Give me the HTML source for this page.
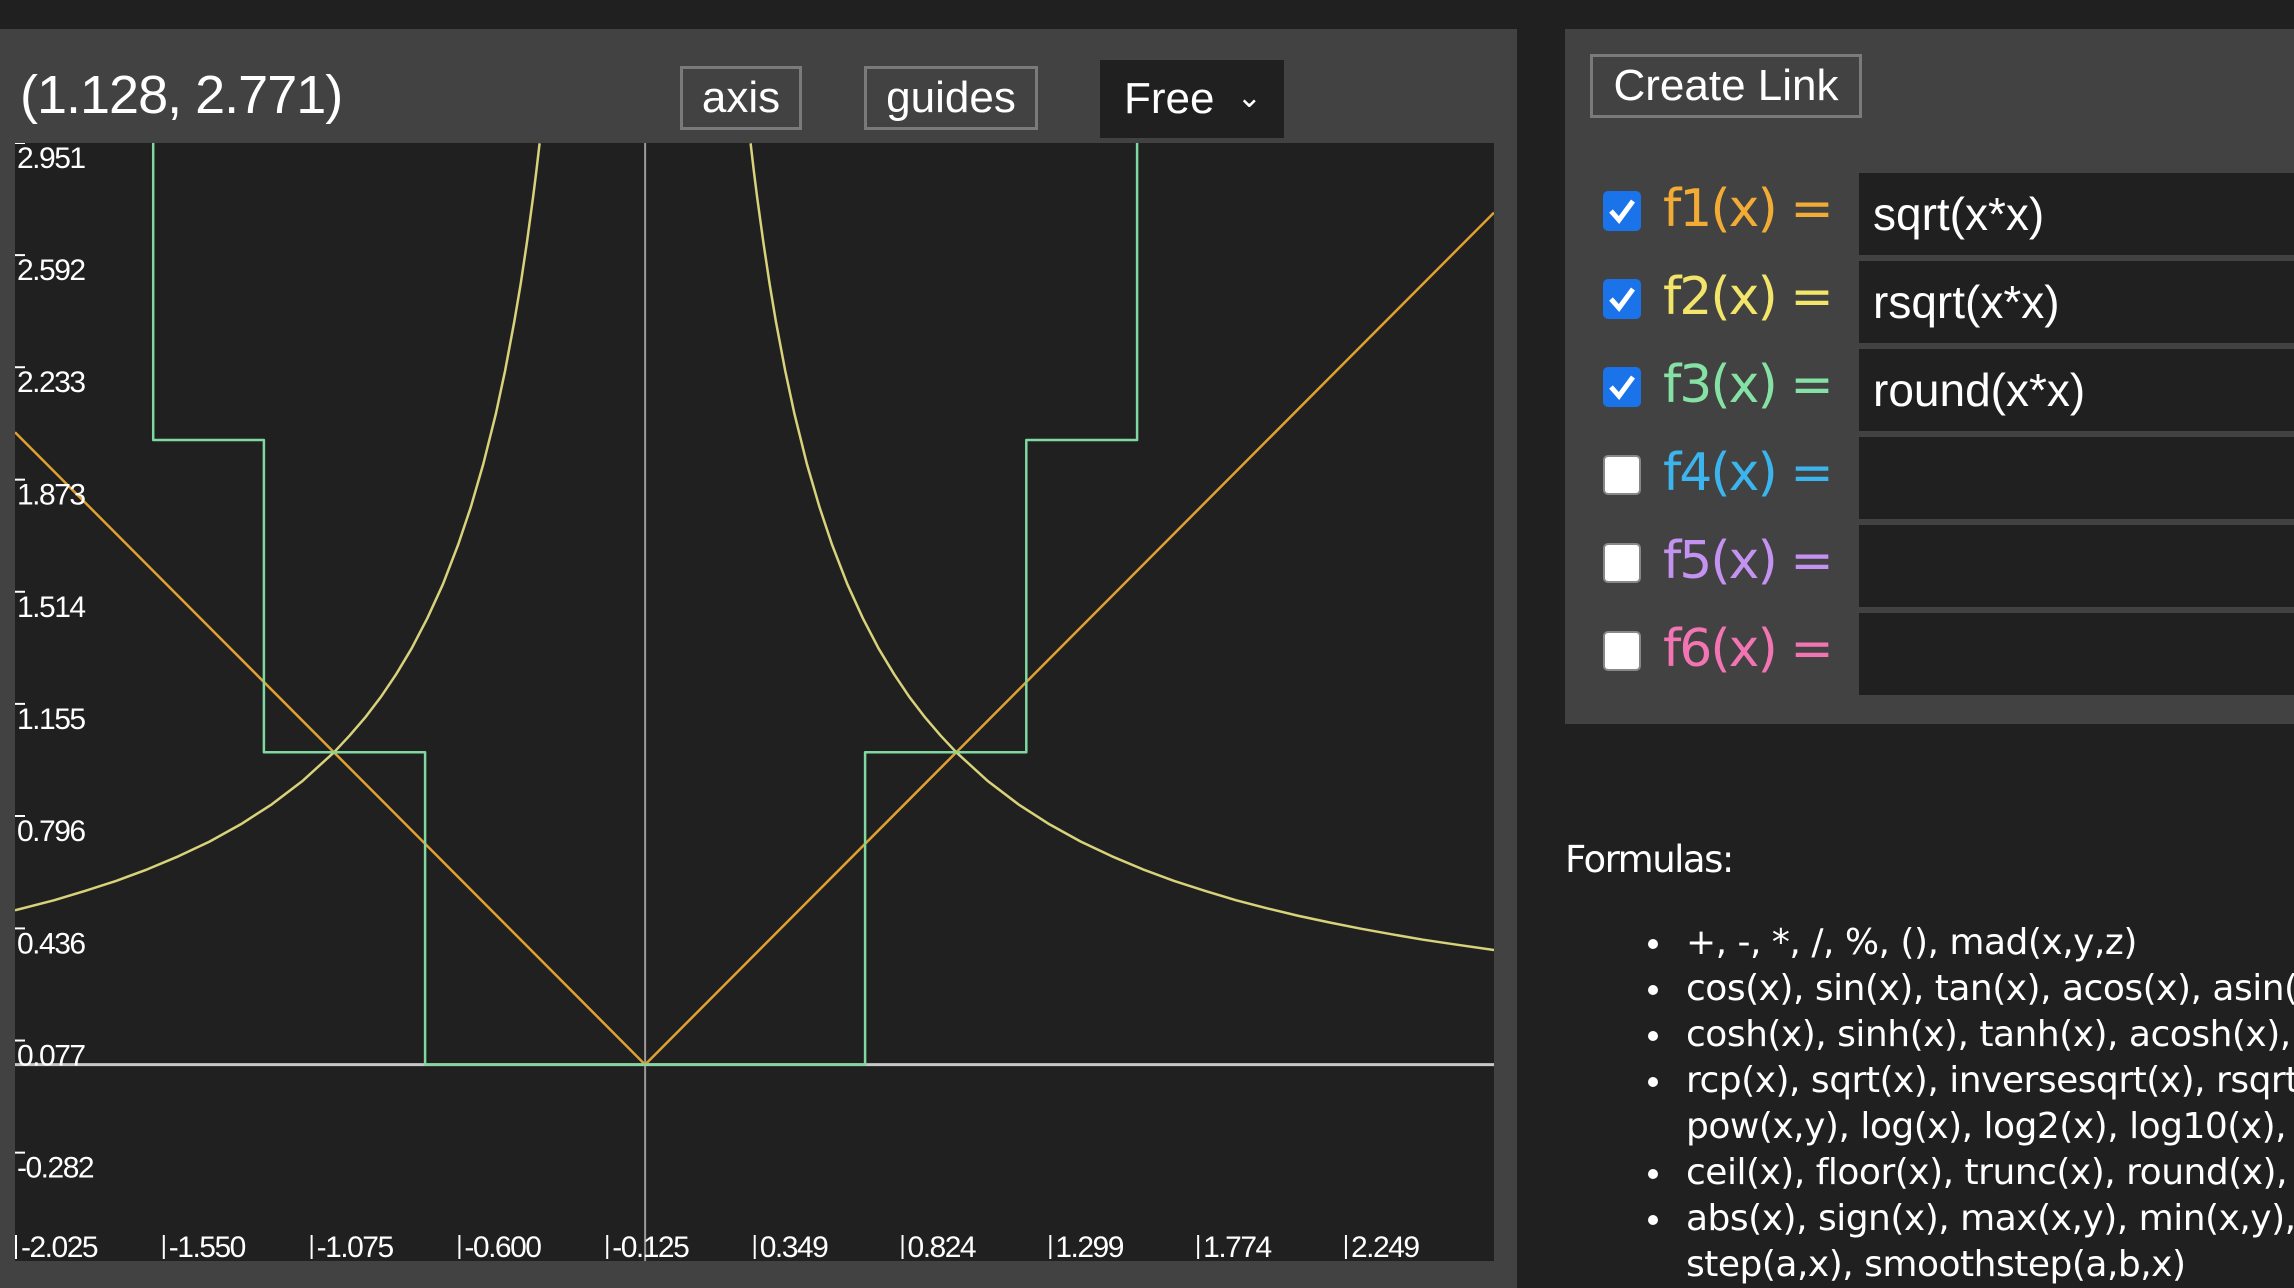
<!DOCTYPE html>
<html><head><meta charset="utf-8">
<style>
html,body{margin:0;padding:0;width:2294px;height:1288px;overflow:hidden;background:#202020;font-family:"Liberation Sans",sans-serif;color:#fff}
#left{position:absolute;left:0;top:29px;width:1517px;height:1259px;background:#424242}
#coord{position:absolute;left:20px;top:64px;font-size:54px;white-space:nowrap;letter-spacing:-1px}
.btn{position:absolute;box-sizing:border-box;border:3px solid #7a7a7a;background:#424242;color:#fff;font-size:44px;text-align:center;line-height:58px}
#sel{position:absolute;left:1100px;top:60px;width:184px;height:78px;background:#202020;font-size:44px;line-height:78px;padding-left:24px;box-sizing:border-box}
#right{position:absolute;left:1565px;top:29px;width:729px;height:695px;background:#424242;overflow:hidden}
.row{position:absolute;left:0;height:82px;width:729px}
.cb{position:absolute;left:38px;top:18px;width:38px;height:40px;border-radius:5px;box-sizing:border-box}
.cb.on{background:#1a73e8}
.cb.off{background:#fff;border:2px solid #888}
.lab{position:absolute;left:98px;top:6px;font-size:52px;font-family:"DejaVu Sans",sans-serif;white-space:nowrap;letter-spacing:-2px}
.inp{position:absolute;left:294px;top:0;width:435px;height:82px;background:#202020;font-size:46px;line-height:82px;padding-left:14px;box-sizing:border-box;white-space:nowrap}
#formulas{position:absolute;left:1565px;top:838px;font-family:"DejaVu Sans",sans-serif;font-size:37px;white-space:nowrap;letter-spacing:-1.5px}
#list{position:absolute;left:1648px;top:920px;width:646px;overflow:hidden;font-family:"DejaVu Sans",sans-serif;font-size:36px;line-height:46px;white-space:nowrap;letter-spacing:-0.5px}
#list div{position:relative;padding-left:38px}
#list .b:before{content:"";position:absolute;left:0;top:19px;width:10px;height:10px;border-radius:50%;background:#fff}
</style></head><body>
<div id="left"></div>
<div id="coord">(1.128, 2.771)</div>
<div class="btn" style="left:680px;top:66px;width:122px;height:64px">axis</div>
<div class="btn" style="left:864px;top:66px;width:174px;height:64px">guides</div>
<div id="sel">Free <span style="font-size:30px;position:relative;top:-6px;left:10px">&#8964;</span></div>

<svg id="chart" style="position:absolute;left:15px;top:143px" width="1479" height="1118">
<rect width="1479" height="1118" fill="#202020"/>
<g id="axes"></g><g id="series"></g><g id="ticks"></g>
</svg>

<div id="right">
 <div class="btn" style="left:25px;top:25px;width:272px;height:64px;font-size:44px">Create Link</div>
 <div class="row" style="top:144px"><div class="cb on"><svg width="38" height="40"><path d="M8 20 L16 29 L30 10" stroke="#fff" stroke-width="5" fill="none"/></svg></div><div class="lab" style="color:#f2ac35">f1(x) =</div><div class="inp">sqrt(x*x)</div></div>
 <div class="row" style="top:232px"><div class="cb on"><svg width="38" height="40"><path d="M8 20 L16 29 L30 10" stroke="#fff" stroke-width="5" fill="none"/></svg></div><div class="lab" style="color:#f3e46a">f2(x) =</div><div class="inp">rsqrt(x*x)</div></div>
 <div class="row" style="top:320px"><div class="cb on"><svg width="38" height="40"><path d="M8 20 L16 29 L30 10" stroke="#fff" stroke-width="5" fill="none"/></svg></div><div class="lab" style="color:#86e2a4">f3(x) =</div><div class="inp">round(x*x)</div></div>
 <div class="row" style="top:408px"><div class="cb off"></div><div class="lab" style="color:#3cb4ee">f4(x) =</div><div class="inp"></div></div>
 <div class="row" style="top:496px"><div class="cb off"></div><div class="lab" style="color:#c492f0">f5(x) =</div><div class="inp"></div></div>
 <div class="row" style="top:584px"><div class="cb off"></div><div class="lab" style="color:#f274b2">f6(x) =</div><div class="inp"></div></div>
</div>

<div id="formulas">Formulas:</div>
<div id="list">
<div class="b">+, -, *, /, %, (), mad(x,y,z)</div>
<div class="b">cos(x), sin(x), tan(x), acos(x), asin(x), atan(x)</div>
<div class="b">cosh(x), sinh(x), tanh(x), acosh(x), asinh(x)</div>
<div class="b">rcp(x), sqrt(x), inversesqrt(x), rsqrt(x),</div>
<div>pow(x,y), log(x), log2(x), log10(x), exp(x)</div>
<div class="b">ceil(x), floor(x), trunc(x), round(x), frac(x)</div>
<div class="b">abs(x), sign(x), max(x,y), min(x,y),</div>
<div>step(a,x), smoothstep(a,b,x)</div>
</div>

<script>
const xMin=-2.025, xMax=2.728, yMax=2.951, yMin=-0.629;
const xTicks=[-2.025,-1.550,-1.075,-0.600,-0.125,0.349,0.824,1.299,1.774,2.249];
const xTickLabels=["-2.025","-1.550","-1.075","-0.600","-0.125","0.349","0.824","1.299","1.774","2.249"];
const yTicks=[2.951,2.592,2.233,1.873,1.514,1.155,0.796,0.436,0.077,-0.282];
const yTickLabels=["2.951","2.592","2.233","1.873","1.514","1.155","0.796","0.436","0.077","-0.282"];
// f1 = sqrt(x*x)
const f1X=[-2.025,0,2.728];
const f1Y=[2.025,0,2.728];
// f2 = rsqrt(x*x) sampled (left branch)
const f2X=[-2.025,-1.9,-1.8,-1.7,-1.6,-1.5,-1.4,-1.3,-1.2,-1.1,-1.0,-0.95,-0.9,-0.85,-0.8,-0.75,-0.7,-0.65,-0.6,-0.56,-0.52,-0.48,-0.45,-0.42,-0.4,-0.38,-0.36,-0.35,-0.339];
const f2Y=[0.494,0.526,0.556,0.588,0.625,0.667,0.714,0.769,0.833,0.909,1.0,1.053,1.111,1.176,1.25,1.333,1.429,1.538,1.667,1.786,1.923,2.083,2.222,2.381,2.5,2.632,2.778,2.857,2.95];
// right branch
const f2bX=[0.339,0.35,0.36,0.38,0.4,0.42,0.45,0.48,0.52,0.56,0.6,0.65,0.7,0.75,0.8,0.85,0.9,0.95,1.0,1.1,1.2,1.3,1.4,1.5,1.6,1.7,1.8,1.9,2.0,2.1,2.2,2.3,2.4,2.5,2.6,2.728];
const f2bY=[2.95,2.857,2.778,2.632,2.5,2.381,2.222,2.083,1.923,1.786,1.667,1.538,1.429,1.333,1.25,1.176,1.111,1.053,1.0,0.909,0.833,0.769,0.714,0.667,0.625,0.588,0.556,0.526,0.5,0.476,0.455,0.435,0.417,0.4,0.385,0.367];
// f3 = round(x*x): step edges and levels
const f3Edges=[-2.025,-1.581,-1.225,-0.707,0.707,1.225,1.581,1.871,2.728];
const f3Levels=[3,2,1,0,1,2,3,4];

const W=1479,H=1118;
const sx=v=>(v-xMin)/(xMax-xMin)*W;
const sy=v=>(yMax-v)/(yMax-yMin)*H;
const NS="http://www.w3.org/2000/svg";
function mk(tag,attrs,parent){const e=document.createElementNS(NS,tag);for(const k in attrs)e.setAttribute(k,attrs[k]);parent.appendChild(e);return e;}
const axes=document.getElementById('axes'),ser=document.getElementById('series'),tk=document.getElementById('ticks');
let a=mk('line',{x1:0,x2:W,y1:sy(0),y2:sy(0),stroke:'#c8c8c8','stroke-width':3},axes);


a=mk('line',{x1:sx(0),x2:sx(0),y1:0,y2:H,stroke:'#9a9a9a','stroke-width':2},axes);


function poly(xs,ys,color,name){
  const pts=xs.map((x,i)=>sx(x).toFixed(1)+','+sy(ys[i]).toFixed(1)).join(' ');
  const p=mk('polyline',{points:pts,fill:'none',stroke:color,'stroke-width':2.5,'stroke-linejoin':'round'},ser);
  
  
}
poly(f1X,f1Y,'#e0a032','f1-line');
poly(f2X,f2Y,'#d8d27a','f2-line-left');
poly(f2bX,f2bY,'#d8d27a','f2-line-right');
const f3x=[],f3y=[];
f3Levels.forEach((lv,i)=>{f3x.push(f3Edges[i],f3Edges[i+1]);f3y.push(lv,lv);});
const cy=v=>Math.min(v,yMax+0.05);
poly(f3x,f3y.map(cy),'#7fd8a0','f3-line');
yTicks.forEach((v,i)=>{
  const y=sy(v);
  const l=mk('line',{x1:0,x2:10,y1:y,y2:y,stroke:'#fff','stroke-width':2},tk);
  
  
  const t=mk('text',{x:2,y:y+25,fill:'#fff','font-size':30,'font-family':'Liberation Sans, sans-serif','letter-spacing':-1.5},tk);
  t.textContent=yTickLabels[i];
  
  
});
xTicks.forEach((v,i)=>{
  const x=sx(v);
  const l=mk('line',{x1:x+1,x2:x+1,y1:H-26,y2:H-2,stroke:'#fff','stroke-width':2},tk);
  
  
  const t=mk('text',{x:x+6,y:H-4,fill:'#fff','font-size':30,'font-family':'Liberation Sans, sans-serif','letter-spacing':-1.5},tk);
  t.textContent=xTickLabels[i];
  
  
});
</script>
</body></html>
